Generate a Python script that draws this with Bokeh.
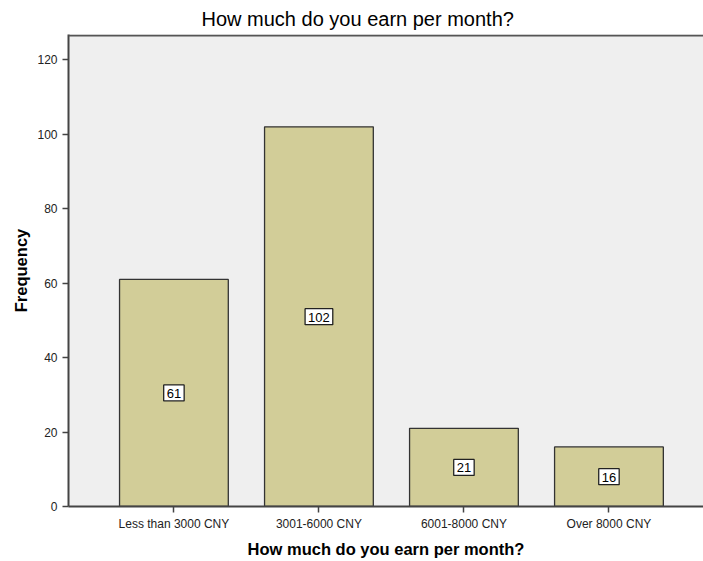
from bokeh.plotting import figure
from bokeh.models import ColumnDataSource, Range1d, FixedTicker, Span
from bokeh.core.properties import value
from bokeh.embed import file_html
from bokeh.resources import INLINE

categories = ["Less than 3000 CNY", "3001-6000 CNY", "6001-8000 CNY", "Over 8000 CNY"]
counts = [61, 102, 21, 16]
y_ticks = [0, 20, 40, 60, 80, 100, 120]

xs = list(range(len(categories)))
src = ColumnDataSource(dict(
    x=xs,
    top=counts,
    mid=[c / 2 for c in counts],
    lab=[str(c) for c in counts],
))

FONT = "Liberation Sans"
Y_TOP = 126.5

p = figure(width=703, height=561, output_backend="svg", toolbar_location=None,
           x_range=Range1d(-0.727, 3.652), y_range=Range1d(0, Y_TOP + 0.3),
           min_border_left=68, min_border_right=0, min_border_top=33, min_border_bottom=55,
           background_fill_color="#efefef", border_fill_color="white")

p.title.text = "How much do you earn per month?"
p.title.align = "left"
p.title.offset = 133
p.title.text_font = FONT
p.title.text_font_size = "20px"
p.title.text_font_style = "normal"
p.title.text_color = "black"

p.vbar(x="x", top="top", width=0.75, bottom=0, source=src,
       fill_color="#d2cd98", line_color="#333333", line_width=1.3)

p.text(x="x", y="mid", text="lab", source=src, text_align="center", text_baseline="middle",
       text_font=value(FONT), text_font_size="13px", text_color="black",
       background_fill_color="white", border_line_color="#222222", border_line_width=1.3,
       padding=dict(left=3, right=3, top=4, bottom=3))

p.add_layout(Span(location=Y_TOP, dimension="width", line_color="#555555", line_width=2))

p.xgrid.visible = False
p.ygrid.visible = False

p.xaxis.ticker = FixedTicker(ticks=xs)
p.xaxis.major_label_overrides = {i: c for i, c in enumerate(categories)}
p.yaxis.ticker = FixedTicker(ticks=y_ticks)

for ax in (p.xaxis[0], p.yaxis[0]):
    ax.axis_line_color = "#444444"
    ax.axis_line_width = 2
    ax.major_tick_line_color = "#444444"
    ax.major_tick_line_width = 1.5
    ax.minor_tick_line_color = None
    ax.major_label_text_font = FONT
    ax.major_label_text_font_size = "12px"
    ax.major_label_text_color = "#222222"
    ax.axis_label_text_font = FONT
    ax.axis_label_text_font_style = "bold"
    ax.axis_label_text_color = "black"
    ax.axis_label_text_font_size = "16.5px"

p.xaxis.major_tick_out = 6
p.xaxis.major_tick_in = 0
p.xaxis.major_label_standoff = 4
p.yaxis.major_tick_out = 6
p.yaxis.major_tick_in = 0
p.xaxis.axis_label = "How much do you earn per month?"
p.xaxis.axis_label_standoff = 6
p.yaxis.axis_label = "Frequency"
p.yaxis.axis_label_standoff = 4

p.outline_line_color = None

open("out.html", "w").write(file_html(p, INLINE))
